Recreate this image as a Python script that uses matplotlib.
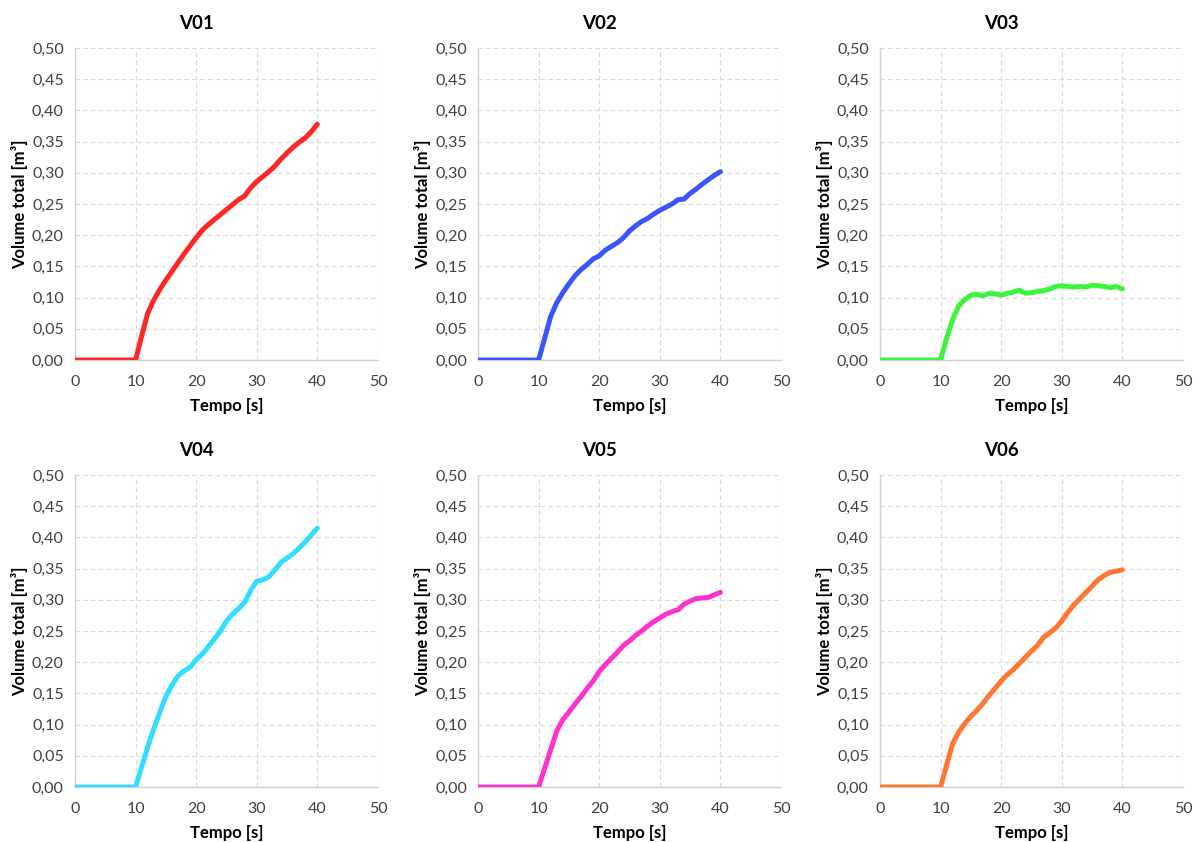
import numpy as np
import matplotlib.pyplot as plt
from matplotlib.ticker import FuncFormatter

# time axis [s] shared by every run
t = [0, 10, 11, 12, 13, 14, 15, 16, 17, 18, 19, 20, 21, 22, 23, 24, 25,
     26, 27, 28, 29, 30, 31, 32, 33, 34, 35, 36, 37, 38, 39, 40]

v01 = [0, 0, 0.038, 0.075, 0.096, 0.113, 0.128, 0.142, 0.156, 0.170, 0.183,
       0.196, 0.208, 0.217, 0.225, 0.233, 0.241, 0.249, 0.257, 0.263, 0.276,
       0.286, 0.294, 0.302, 0.311, 0.322, 0.332, 0.341, 0.349, 0.356, 0.366,
       0.378]
v02 = [0, 0, 0.035, 0.070, 0.092, 0.108, 0.122, 0.135, 0.145, 0.153, 0.162,
       0.167, 0.176, 0.182, 0.188, 0.196, 0.207, 0.215, 0.222, 0.227, 0.234,
       0.240, 0.245, 0.250, 0.257, 0.258, 0.267, 0.274, 0.282, 0.289, 0.296,
       0.302]
v03 = [0, 0, 0.035, 0.065, 0.087, 0.097, 0.104, 0.105, 0.103, 0.107, 0.106,
       0.104, 0.107, 0.109, 0.112, 0.107, 0.108, 0.110, 0.111, 0.114, 0.118,
       0.119, 0.118, 0.117, 0.118, 0.117, 0.120, 0.119, 0.118, 0.116, 0.118,
       0.114]
v04 = [0, 0, 0.032, 0.064, 0.093, 0.120, 0.145, 0.163, 0.178, 0.186, 0.192,
       0.204, 0.213, 0.225, 0.237, 0.250, 0.266, 0.277, 0.286, 0.296, 0.315,
       0.330, 0.332, 0.337, 0.348, 0.360, 0.367, 0.374, 0.383, 0.393, 0.404,
       0.415]
v05 = [0, 0, 0.030, 0.060, 0.090, 0.108, 0.120, 0.133, 0.145, 0.158, 0.170,
       0.185, 0.196, 0.206, 0.216, 0.227, 0.234, 0.243, 0.250, 0.258, 0.265,
       0.271, 0.277, 0.281, 0.284, 0.293, 0.298, 0.302, 0.303, 0.304, 0.308,
       0.312]
v06 = [0, 0, 0.035, 0.070, 0.088, 0.102, 0.113, 0.123, 0.134, 0.147, 0.158,
       0.170, 0.180, 0.188, 0.198, 0.208, 0.218, 0.227, 0.240, 0.247, 0.255,
       0.266, 0.280, 0.292, 0.302, 0.312, 0.322, 0.332, 0.339, 0.344, 0.346,
       0.348]

names = ["V01", "V02", "V03", "V04", "V05", "V06"]
series = [v01, v02, v03, v04, v05, v06]
colors = ["#ff2626", "#3a55ff", "#3cf43c", "#33ddff", "#ff33cc", "#ff7733"]

plt.rcParams["font.family"] = ["Lato", "DejaVu Sans"]

fig = plt.figure(figsize=(12.01, 8.42), dpi=100)
lefts = [0.0624, 0.398, 0.7327]
bottoms = [0.5724, 0.0653]
w, h = 0.2523, 0.3705

comma = FuncFormatter(lambda v, pos: f"{v:.2f}".replace(".", ","))

for i, (name, y, c) in enumerate(zip(names, series, colors)):
    ax = fig.add_axes([lefts[i % 3], bottoms[i // 3], w, h])
    ax.plot(t, y, color=c, lw=3.6, solid_capstyle="round",
            solid_joinstyle="round", zorder=3)
    ax.set_xlim(0, 50)
    ax.set_ylim(0, 0.5)
    ax.set_xticks(np.arange(0, 51, 10))
    ax.set_yticks(np.arange(0, 0.51, 0.05))
    ax.yaxis.set_major_formatter(comma)
    ax.grid(True, color="#d9d9d9", ls=(0, (4, 3)), lw=0.8)
    ax.tick_params(length=0, labelsize=11.5, colors="#404040")
    ax.tick_params(axis="x", pad=11)
    ax.tick_params(axis="y", pad=8)
    for s in ["top", "right"]:
        ax.spines[s].set_visible(False)
    for s in ["left", "bottom"]:
        ax.spines[s].set_color("#d0d0d0")
        ax.spines[s].set_linewidth(1.0)
    # title sits over the whole panel (labels included), not just the plot box
    ax.set_title(name, fontsize=13.5, fontweight="bold", pad=14, x=0.40)
    ax.set_xlabel("Tempo [s]", fontsize=12, fontweight="bold", labelpad=6)
    ax.set_ylabel("Volume total [m³]", fontsize=12, fontweight="bold",
                  labelpad=3)

fig.savefig("out.png", dpi=100)
